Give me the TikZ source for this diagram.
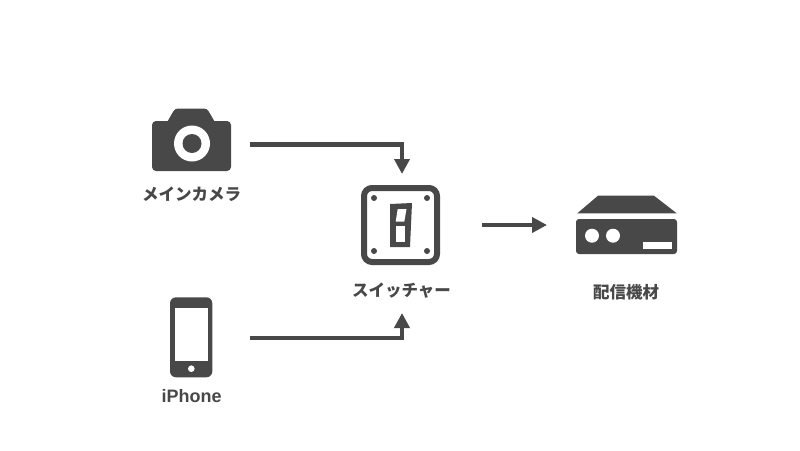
\documentclass[tikz,border=0pt]{standalone}
\usepackage{fontspec}
\setmainfont{Liberation Sans}
\newfontfamily\cjk{Noto Sans CJK JP}
\usetikzlibrary{arrows.meta}

\definecolor{icongray}{HTML}{484848}

\begin{document}
\begin{tikzpicture}[x=1pt,y=-1pt]

% Styles
\tikzset{
    iconbox/.style={inner sep=0pt,outer sep=0pt},
    flow/.style={draw=icongray,line width=4.2pt,-{Triangle[length=15pt,width=15pt]}},
    jplabel/.style={text=icongray,inner sep=0pt,font={\cjk\bfseries\fontsize{16.5}{18}\selectfont}},
    enlabel/.style={text=icongray,inner sep=0pt,font={\bfseries\fontsize{18}{20}\selectfont}}
}

\useasboundingbox (0,0) rectangle (800,450);
\fill[white] (0,0) rectangle (800,450);

% Anchors of the icons
\node[iconbox,minimum width=79pt,minimum height=52pt] (camera) at (191.5,144.5){};
\node[iconbox,minimum width=42pt,minimum height=80pt] (iphone) at (191.5,338){};
\node[iconbox,minimum width=80pt,minimum height=80pt] (switcher) at (402,225){};
\node[iconbox,minimum width=101pt,minimum height=58pt] (encoder) at (626.5,225){};

% Camera
\fill[icongray,rounded corners=4pt] (152,121) rectangle (231,171);
\fill[icongray,rounded corners=3pt] (166,124) -- (175,108.5) -- (207,108.5) -- (216,124) -- cycle;
\fill[white] (192,143.5) circle (18);
\fill[icongray] (192,143.5) circle (9.5);

% Switcher
\draw[icongray,line width=6pt,rounded corners=8pt] (364,188) rectangle (437,262);
\foreach \px/\py in {374/198,427/198,374/251,427/251}
    \fill[icongray] (\px,\py) circle (3);
\fill[icongray] (390,204) -- (412,203) -- (410,247) -- (390,247) -- cycle;
\fill[white] (397.7,209) -- (406.5,209) -- (404.3,221.7) -- (395.7,221.7) -- cycle;
\fill[white] (395.7,226) rectangle (404.7,241.7);

% Encoder
\fill[icongray] (577.3,213.3) -- (598,195.7) -- (654,195.7) -- (676.7,213.3) -- cycle;
\fill[icongray,rounded corners=3pt] (576,219) -- (677,219) -- (677,254) -- (576,254) -- cycle;
\fill[white] (592,235.7) circle (7);
\fill[white] (613,235.7) circle (7);
\fill[white] (643,242) rectangle (671.7,249);

% iPhone
\fill[icongray,rounded corners=6pt] (170,297.3) rectangle (212.3,377.3);
\fill[white] (175,308) rectangle (208.3,361);
\fill[white] (191.3,368.7) circle (3.3);

% Labels
\node[jplabel] (cameralabel) at (191.5,194){メインカメラ};
\node[jplabel] (switcherlabel) at (401.5,291){スイッチャー};
\node[jplabel] (encoderlabel) at (626,292){配信機材};
\node[enlabel] (iphonelabel) at (191.5,396){iPhone};

% Connection
\draw[flow,shorten <=18.5pt,shorten >=11pt] (camera.east) -| (switcher.north);
\draw[flow,shorten <=37.5pt,shorten >=48pt] (iphone.east) -| (switcher.south);
\draw[flow,shorten <=40pt,shorten >=29pt] (switcher.east) -- (encoder.west);

\end{tikzpicture}
\end{document}
